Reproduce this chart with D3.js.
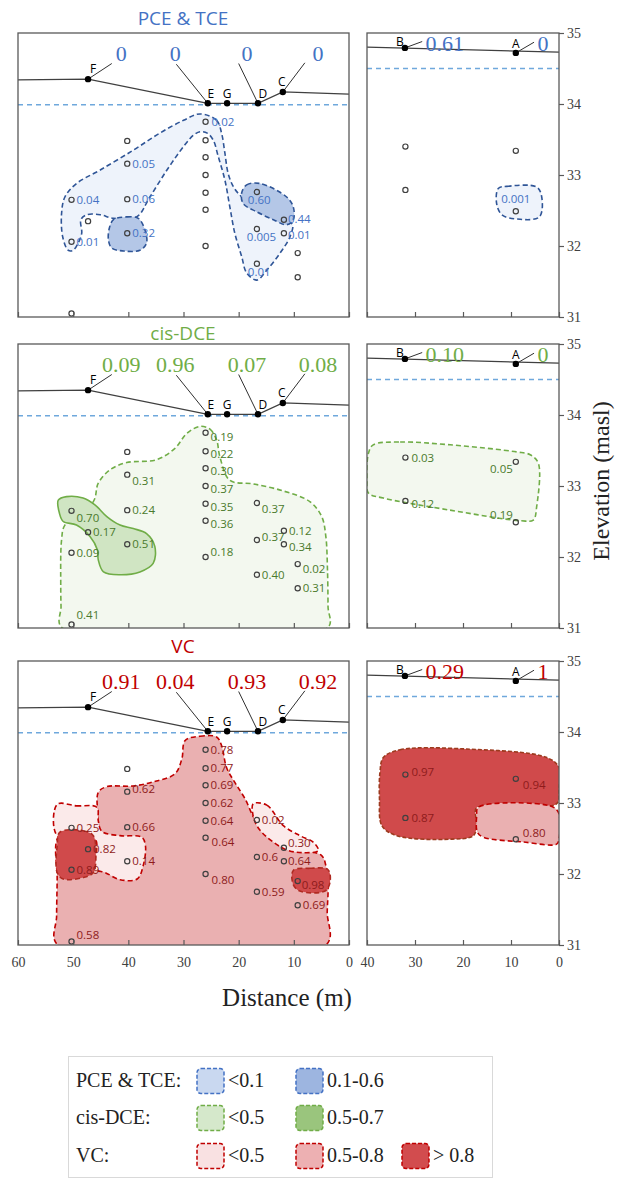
<!DOCTYPE html>
<html>
<head>
<meta charset="utf-8">
<script src="https://cdn.jsdelivr.net/npm/d3@7"></script>
<style>
  body { margin: 0; background: #fff; }
  svg { display: block; }
</style>
</head>
<body>
<svg id="chart" width="629" height="1178"></svg>
<script>
// ---- sample wells in the long section (distance m, elevation masl)
const sampleDist = [50.3, 50.3, 50.3, 47.3, 40.2, 40.2, 40.2, 40.2, 26.0, 26.0, 26.0, 26.0, 26.0, 26.0, 26.0, 16.7, 16.7, 16.7, 11.8, 11.8, 9.3, 9.3];
const sampleElev = [32.65, 32.06, 31.05, 32.35, 33.48, 33.16, 32.66, 32.18, 33.75, 33.49, 33.25, 33.00, 32.75, 32.51, 32.00, 32.76, 32.24, 31.75, 32.37, 32.18, 31.90, 31.56];
const pceLabels = ["0.04", "0.01", "", "", "", "0.05", "0.06", "0.32", "0.02", "", "", "", "", "", "", "0.60", "0.005", "0.01", "0.44", "0.01", "", ""];
const dceLabels = ["0.70", "0.09", "0.41", "0.17", "", "0.31", "0.24", "0.51", "0.19", "0.22", "0.30", "0.37", "0.35", "0.36", "0.18", "0.37", "0.37", "0.40", "0.12", "0.34", "0.02", "0.31"];
const vcLabels = ["0.25", "0.89", "0.58", "0.82", "", "0.62", "0.66", "0.14", "0.78", "0.77", "0.69", "0.62", "0.64", "0.64", "0.80", "0.02", "0.6", "0.59", "0.30", "0.64", "0.98", "0.69"];

// ---- sample wells in the short section
const rightDist = [32.0, 32.0, 9.0, 9.0];
const rightElev = [33.40, 32.79, 33.34, 32.49];
const pceRightLabels = ["", "", "", "0.001"];
const dceRightLabels = ["0.03", "0.12", "0.05", "0.19"];
const vcRightLabels = ["0.97", "0.87", "0.94", "0.80"];

// ---- surface water sites and ground profile
const siteNames = ["F", "E", "G", "D", "C"];
const siteDist = [47.3, 25.6, 22.1, 16.5, 12.0];
const siteElev = [34.35, 34.01, 34.01, 34.01, 34.17];
const groundDist = [60, 47.3, 25.6, 16.5, 12.0, 0];
const groundElev = [34.34, 34.35, 34.01, 34.01, 34.17, 34.14];
const rightSiteNames = ["B", "A"];
const rightSiteDist = [32.1, 9.0];
const rightSiteElev = [34.79, 34.72];
const rightGroundDist = [40, 0];
const rightGroundElev = [34.80, 34.73];
const waterLeft = 33.99;
const waterRight = 34.5;

// surface values at F, E, D, C and at B, A
const pceSurface = ["0", "0", "0", "0"];
const dceSurface = ["0.09", "0.96", "0.07", "0.08"];
const vcSurface = ["0.91", "0.04", "0.93", "0.92"];
const pceSurfaceRight = ["0.61", "0"];
const dceSurfaceRight = ["0.10", "0"];
const vcSurfaceRight = ["0.29", "1"];

const xTicksLeft = [60, 50, 40, 30, 20, 10, 0];
const xTicksRight = [40, 30, 20, 10, 0];
const yTicks = [31, 32, 33, 34, 35];

// ---- concentration zones, outlines as [distance, elevation]
const pceLowLeft = [[27.0,33.86],[24.0,33.77],[23.1,33.59],[22.5,33.31],[21.9,33.02],[20.85,32.82],[19.45,32.69],[16.9,32.51],[13.4,32.37],[10.3,32.31],[10.7,32.13],[12.5,31.90],[14.9,31.66],[16.7,31.52],[18.55,31.62],[19.45,31.85],[20.7,32.18],[21.6,32.55],[22.5,32.93],[23.7,33.26],[24.6,33.49],[25.7,33.59],[27.0,33.61],[28.2,33.56],[30.0,33.40],[33.0,33.07],[36.1,32.69],[38.5,32.41],[42.7,32.39],[45.1,32.44],[47.55,32.44],[48.6,32.37],[48.45,32.18],[49.1,32.04],[50.0,31.94],[50.9,31.94],[51.9,32.13],[52.1,32.46],[51.5,32.69],[49.4,32.88],[45.1,33.07],[39.1,33.35],[34.3,33.59],[30.0,33.77]];
const pceMidLeftA = [[19.45,32.75],[18.55,32.86],[16.1,32.88],[11.3,32.69],[10.1,32.55],[10.1,32.37],[11.3,32.30],[13.7,32.37],[16.7,32.48],[19.2,32.60]];
const pceMidLeftB = [[42.7,32.37],[40.3,32.41],[38.2,32.39],[37.0,32.23],[36.7,32.04],[37.9,31.94],[40.9,31.93],[43.0,31.97],[43.6,32.08],[43.45,32.25]];
const pceLowRight = [[12.65,32.81],[10.9,32.84],[4.65,32.83],[3.6,32.69],[4.1,32.41],[8.8,32.38],[11.9,32.44],[13.0,32.60]];

const dceLowLeft = [[27.0,33.84],[25.2,33.80],[24.0,33.65],[23.4,33.41],[21.6,33.08],[17.35,33.03],[11.9,32.93],[7.1,32.78],[4.95,32.57],[4.2,32.29],[3.9,31.82],[3.8,31.3],[3.8,31.01],[52.1,31.01],[52.2,31.3],[52.25,31.58],[52.1,32.24],[51.5,32.45],[46.35,32.78],[45.45,33.04],[43.3,33.23],[40.3,33.33],[34.9,33.37],[31.55,33.53],[29.4,33.74]];
const dceMidLeft = [[52.7,32.80],[51.2,32.85],[48.2,32.83],[46.0,32.73],[43.9,32.57],[41.5,32.45],[39.1,32.40],[36.7,32.33],[35.2,32.15],[35.5,31.91],[37.9,31.79],[41.5,31.75],[44.5,31.79],[45.45,31.96],[45.6,32.10],[46.95,32.29],[49.4,32.45],[51.8,32.50],[52.5,32.62]];
const dceLowRight = [[38.7,33.58],[33.1,33.62],[22.7,33.58],[8.8,33.48],[6.0,33.44],[4.3,33.32],[4.65,32.71],[5.35,32.52],[7.8,32.51],[22.7,32.66],[36.6,32.83],[39.7,32.90],[40.0,33.08],[39.7,33.46]];

const vcMidLeft = [[29.7,33.88],[27.0,33.94],[24.0,33.93],[23.1,33.81],[22.2,33.50],[20.7,33.29],[18.85,33.06],[17.05,32.77],[14.9,32.59],[11.9,32.45],[7.7,32.33],[4.95,32.26],[4.2,32.12],[3.8,31.84],[3.95,31.46],[4.05,31.01],[52.9,31.01],[53.0,31.41],[52.9,31.93],[52.9,32.49],[51.2,32.60],[45.7,32.59],[45.6,32.87],[45.45,33.15],[43.9,33.23],[39.1,33.24],[34.9,33.31],[31.55,33.41],[30.3,33.62]];
const vcLowLeftA = [[52.9,32.98],[49.4,32.96],[45.7,32.94],[45.45,32.75],[44.8,32.60],[41.5,32.54],[37.6,32.52],[36.9,32.40],[37.3,32.12],[38.4,31.93],[41.5,31.92],[44.2,32.02],[46.0,32.07],[46.0,32.49],[52.9,32.54]];
const vcHighLeftA = [[52.4,32.59],[48.2,32.61],[46.35,32.54],[45.9,32.31],[46.35,32.02],[48.2,31.95],[51.8,31.93],[52.9,32.02],[52.9,32.40]];
const vcLowLeftB = [[17.35,32.99],[14.9,32.97],[11.9,32.68],[8.9,32.54],[6.5,32.45],[5.55,32.33],[8.3,32.30],[11.3,32.34],[14.9,32.52],[16.7,32.68],[17.45,32.85]];
const vcHighLeftB = [[10.1,32.05],[7.1,32.08],[3.8,32.06],[3.45,31.88],[4.35,31.76],[8.9,31.76],[10.1,31.85]];
const vcHighRight = [[36.6,33.64],[33.1,33.75],[19.2,33.76],[2.55,33.64],[0,33.50],[0,33.20],[0.5,32.99],[15.8,32.96],[17.3,32.92],[17.15,32.68],[17.85,32.54],[22.7,32.49],[33.8,32.54],[36.9,32.68],[37.4,33.06],[37.3,33.43]];
const vcMidRight = [[16.8,32.94],[1.9,32.96],[0.15,32.87],[0,32.49],[0.5,32.42],[7.4,32.45],[15.8,32.52],[17.0,32.59],[17.15,32.82]];

// ---- layout
const svg = d3.select('#chart');
const xL = d3.scaleLinear().domain([60, 0]).range([18, 349]);
const xR = d3.scaleLinear().domain([40, 0]).range([367, 559]);
const panelH = 284;
const serif = '"Liberation Serif", "Times New Roman", serif';
const sans = '"Open Sans", "Noto Sans", sans-serif';

const pceStroke = '#2F5597', dceStroke = '#70AD47', vcStroke = '#C00000';

const panels = [
  {
    title: 'PCE & TCE', titleY: 25, top: 33, titleColor: '#4472C4', surfColor: '#4472C4', labelColor: '#4472C4',
    labels: pceLabels, rightLabels: pceRightLabels, surface: pceSurface, surfaceRight: pceSurfaceRight,
    zonesLeft: [
      { pts: pceLowLeft, fill: '#EEF3FB', stroke: pceStroke, dash: '5,3' },
      { pts: pceMidLeftA, fill: '#B4C7E7', stroke: pceStroke, dash: '5,3' },
      { pts: pceMidLeftB, fill: '#B4C7E7', stroke: pceStroke, dash: '5,3' }
    ],
    zonesRight: [{ pts: pceLowRight, fill: '#EEF3FB', stroke: pceStroke, dash: '5,3' }],
    nudge: { 15: [-9, 8], 16: [-10, 8], 17: [-9, 8], 18: [4, -1], 19: [4, 2], 8: [6, 0] },
    rightNudge: { 3: ['middle', 0, -12] }
  },
  {
    title: 'cis-DCE', titleY: 340, top: 344, titleColor: '#70AD47', surfColor: '#70AD47', labelColor: '#4A7A2C',
    labels: dceLabels, rightLabels: dceRightLabels, surface: dceSurface, surfaceRight: dceSurfaceRight,
    zonesLeft: [
      { pts: dceLowLeft, fill: '#F3F8EF', stroke: dceStroke, dash: '5,3' },
      { pts: dceMidLeft, fill: '#D0E5C3', stroke: dceStroke, dash: null }
    ],
    zonesRight: [{ pts: dceLowRight, fill: '#F3F8EF', stroke: dceStroke, dash: '5,3' }],
    nudge: { 0: [5, 7], 2: [5, -9], 5: [5, 6], 8: [5, 4], 9: [5, 3], 10: [5, 3], 11: [5, 3], 12: [5, 3], 13: [5, 3], 14: [5, -5], 15: [5, 6], 16: [5, -3], 19: [5, 3], 20: [5, 5] },
    rightNudge: { 1: ['start', 6, 3], 2: ['end', -3, 7], 3: ['end', -3, -7] }
  },
  {
    title: 'VC', titleY: 653, top: 661, titleColor: '#C00000', surfColor: '#C00000', labelColor: '#8E1B1B',
    labels: vcLabels, rightLabels: vcRightLabels, surface: vcSurface, surfaceRight: vcSurfaceRight,
    zonesLeft: [
      { pts: vcMidLeft, fill: '#EAB0B1', stroke: vcStroke, dash: '5,3' },
      { pts: vcLowLeftA, fill: '#FBEAEA', stroke: vcStroke, dash: '5,3' },
      { pts: vcLowLeftB, fill: '#FBEAEA', stroke: vcStroke, dash: '5,3' },
      { pts: vcHighLeftA, fill: '#D04A4B', stroke: '#B02A22', dash: '5,3' },
      { pts: vcHighLeftB, fill: '#D04A4B', stroke: '#B02A22', dash: '5,3' }
    ],
    zonesRight: [
      { pts: vcHighRight, fill: '#D04A4B', stroke: '#9C3A1E', dash: '4,2' },
      { pts: vcMidRight, fill: '#EAB0B1', stroke: vcStroke, dash: '5,3' }
    ],
    nudge: { 2: [5, -6], 5: [5, -3], 13: [6, 4], 14: [6, 6], 18: [4, -5], 19: [4, 0], 20: [4, 4] },
    rightNudge: { 0: ['start', 6, -3], 2: ['start', 7, 6], 3: ['start', 7, -6] }
  }
];

// where the surface values sit (F, E, D, C) and their leader lines
const surfLeftAt = [[41.3, 43.0, 34.57], [31.5, 31.3, 34.56], [18.5, 20.0, 34.57], [5.6, 8.0, 34.58]];
const surfSiteIdx = [0, 1, 3, 4];
const surfRightAt = [[27.8, 28.5, 34.88], [4.5, 5.2, 34.87]];
const letterOffsets = { F: [5, -6], E: [3, -5], G: [0, -5], D: [5, -5], C: [-1, -6] };

panels.forEach((p, pi) => {
  const y = d3.scaleLinear().domain([31, 35]).range([p.top + panelH, p.top]);
  const last = pi === panels.length - 1;

  svg.append('text')
    .attr('x', 183).attr('y', p.titleY)
    .attr('text-anchor', 'middle')
    .attr('font-family', sans).attr('font-size', 19)
    .attr('fill', p.titleColor)
    .text(p.title);

  [['L', xL, 331], ['R', xR, 192]].forEach(([side, x, w]) => {
    const clipId = `clip${pi}${side}`;
    svg.append('clipPath').attr('id', clipId)
      .append('rect').attr('x', x.range()[0]).attr('y', p.top).attr('width', w).attr('height', panelH);
    const g = svg.append('g').attr('clip-path', `url(#${clipId})`);

    const zones = side === 'L' ? p.zonesLeft : p.zonesRight;
    const area = d3.line().x(d => x(d[0])).y(d => y(d[1])).curve(d3.curveCatmullRomClosed.alpha(0.5));
    zones.forEach(z => {
      g.append('path')
        .attr('d', area(z.pts))
        .attr('fill', z.fill)
        .attr('stroke', z.stroke)
        .attr('stroke-width', 1.6)
        .attr('stroke-dasharray', z.dash);
    });

    // water table
    const wt = side === 'L' ? waterLeft : waterRight;
    g.append('line')
      .attr('x1', x.range()[0]).attr('x2', x.range()[1])
      .attr('y1', y(wt)).attr('y2', y(wt))
      .attr('stroke', '#6FA8DC').attr('stroke-width', 1.5).attr('stroke-dasharray', '5,4');

    // ground surface
    const gd = side === 'L' ? groundDist : rightGroundDist;
    const ge = side === 'L' ? groundElev : rightGroundElev;
    g.append('path')
      .attr('d', d3.line().x(d => x(d[0])).y(d => y(d[1]))(gd.map((d, i) => [d, ge[i]])))
      .attr('fill', 'none').attr('stroke', '#404040').attr('stroke-width', 1.3);

    // sample points and labels
    const sd = side === 'L' ? sampleDist : rightDist;
    const se = side === 'L' ? sampleElev : rightElev;
    const labs = side === 'L' ? p.labels : p.rightLabels;
    sd.forEach((d, i) => {
      const cx = x(d), cy = y(se[i]);
      g.append('circle').attr('cx', cx).attr('cy', cy).attr('r', 2.6)
        .attr('fill', 'none').attr('stroke', '#404040').attr('stroke-width', 1.2);
      if (!labs[i]) return;
      let anchor = 'start', dx = 5, dy = 0;
      if (side === 'L' && p.nudge[i]) { [dx, dy] = p.nudge[i]; }
      if (side === 'R' && p.rightNudge[i]) { [anchor, dx, dy] = p.rightNudge[i]; }
      if (side === 'R' && !p.rightNudge[i]) { dx = 6; }
      g.append('text')
        .attr('x', cx + dx).attr('y', cy + dy + 4)
        .attr('text-anchor', anchor)
        .attr('font-family', sans).attr('font-size', 11.5)
        .attr('fill', p.labelColor)
        .text(labs[i]);
    });

    // surface sites, leader lines and surface values
    if (side === 'L') {
      surfSiteIdx.forEach((si, k) => {
        const [lx, ex, ey] = surfLeftAt[k];
        g.append('line')
          .attr('x1', x(siteDist[si])).attr('y1', y(siteElev[si]))
          .attr('x2', x(ex)).attr('y2', y(ey))
          .attr('stroke', '#303030').attr('stroke-width', 1);
        g.append('text')
          .attr('x', x(lx)).attr('y', p.top + 28)
          .attr('text-anchor', 'middle')
          .attr('font-family', serif).attr('font-size', 22)
          .attr('fill', p.surfColor)
          .text(p.surface[k]);
      });
      siteDist.forEach((d, i) => {
        g.append('circle').attr('cx', x(d)).attr('cy', y(siteElev[i])).attr('r', 3.2).attr('fill', '#000');
        const off = letterOffsets[siteNames[i]];
        g.append('text')
          .attr('x', x(d) + off[0]).attr('y', y(siteElev[i]) + off[1])
          .attr('text-anchor', 'middle')
          .attr('font-family', sans).attr('font-size', 12).attr('fill', '#000')
          .text(siteNames[i]);
      });
    } else {
      rightSiteDist.forEach((d, i) => {
        const [lx, ex, ey] = surfRightAt[i];
        g.append('line')
          .attr('x1', x(d)).attr('y1', y(rightSiteElev[i]))
          .attr('x2', x(ex)).attr('y2', y(ey))
          .attr('stroke', '#303030').attr('stroke-width', 1);
        g.append('text')
          .attr('x', x(lx)).attr('y', p.top + 18)
          .attr('font-family', serif).attr('font-size', 22)
          .attr('fill', p.surfColor)
          .text(p.surfaceRight[i]);
        g.append('circle').attr('cx', x(d)).attr('cy', y(rightSiteElev[i])).attr('r', 3.2).attr('fill', '#000');
        g.append('text')
          .attr('x', x(d) + (i === 0 ? -5 : 0)).attr('y', y(rightSiteElev[i]) + (i === 0 ? -2 : -5))
          .attr('text-anchor', 'middle')
          .attr('font-family', sans).attr('font-size', 12).attr('fill', '#000')
          .text(rightSiteNames[i]);
      });
    }

    // frame
    svg.append('rect')
      .attr('x', x.range()[0]).attr('y', p.top).attr('width', w).attr('height', panelH)
      .attr('fill', 'none').attr('stroke', '#595959').attr('stroke-width', 1.3);

    // bottom axis (inward ticks, labels only on the last row)
    const ax = svg.append('g')
      .attr('transform', `translate(0,${p.top + panelH})`)
      .call(d3.axisBottom(x)
        .tickValues(side === 'L' ? xTicksLeft : xTicksRight)
        .tickSize(-5).tickPadding(12)
        .tickFormat(last ? d3.format('d') : () => ''));
    ax.select('.domain').remove();
    ax.selectAll('line').attr('stroke', '#595959').attr('stroke-width', 1.2);
    ax.selectAll('text').attr('font-family', serif).attr('font-size', 14).attr('fill', '#404040');
  });

  // right elevation axis
  const ay = svg.append('g')
    .attr('transform', `translate(559,0)`)
    .call(d3.axisRight(y).tickValues(yTicks).tickSize(5).tickPadding(3).tickFormat(d3.format('d')));
  ay.select('.domain').remove();
  ay.selectAll('line').attr('stroke', '#595959').attr('stroke-width', 1.2);
  ay.selectAll('text').attr('font-family', serif).attr('font-size', 14).attr('fill', '#404040');
});

svg.append('text')
  .attr('transform', 'translate(609,481) rotate(-90)')
  .attr('text-anchor', 'middle')
  .attr('font-family', serif).attr('font-size', 24).attr('fill', '#222')
  .text('Elevation (masl)');

svg.append('text')
  .attr('x', 287).attr('y', 1006)
  .attr('text-anchor', 'middle')
  .attr('font-family', serif).attr('font-size', 25).attr('fill', '#222')
  .text('Distance (m)');

// ---- legend
const legendRows = ['PCE & TCE:', 'cis-DCE:', 'VC:'];
const legendItems = [
  [['<0.1', '#C9D8F0', '#4472C4'], ['0.1-0.6', '#9DB5E0', '#4472C4']],
  [['<0.5', '#D5E8CB', '#70AD47'], ['0.5-0.7', '#9AC57D', '#70AD47']],
  [['<0.5', '#F9E1E2', '#C00000'], ['0.5-0.8', '#EDB0B2', '#C00000'], ['> 0.8', '#D24C4E', '#C00000']]
];
const legendColX = [197, 296, 402];
const legendRowY = [1081, 1118, 1156];

svg.append('rect')
  .attr('x', 68.5).attr('y', 1056.5).attr('width', 424).attr('height', 121)
  .attr('fill', '#fff').attr('stroke', '#D9D9D9').attr('stroke-width', 1);

legendRows.forEach((r, i) => {
  svg.append('text')
    .attr('x', 76).attr('y', legendRowY[i] + 6)
    .attr('font-family', serif).attr('font-size', 20).attr('fill', '#222')
    .text(r);
  legendItems[i].forEach((it, j) => {
    svg.append('rect')
      .attr('x', legendColX[j]).attr('y', legendRowY[i] - 12.5)
      .attr('width', 27).attr('height', 25).attr('rx', 4)
      .attr('fill', it[1]).attr('stroke', it[2]).attr('stroke-width', 1.5)
      .attr('stroke-dasharray', '4,2');
    svg.append('text')
      .attr('x', legendColX[j] + 31).attr('y', legendRowY[i] + 6)
      .attr('font-family', serif).attr('font-size', 20).attr('fill', '#222')
      .text(it[0]);
  });
});
</script>
</body>
</html>
